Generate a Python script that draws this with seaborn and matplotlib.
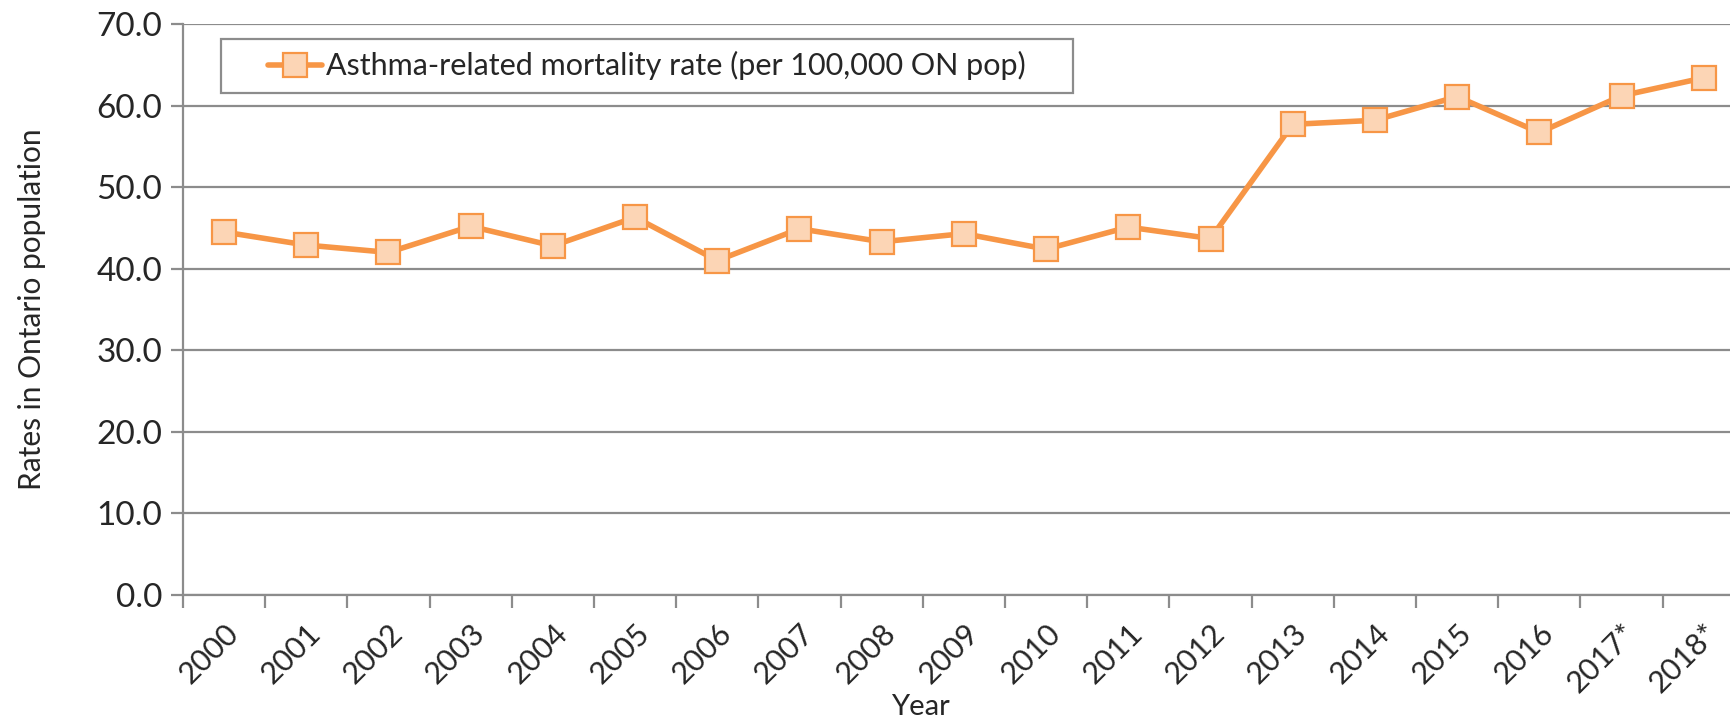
import matplotlib
matplotlib.use("Agg")
import matplotlib.pyplot as plt
import seaborn as sns
import pandas as pd
import numpy as np
from matplotlib.ticker import FixedLocator
from matplotlib.patches import Rectangle

# data
years = ["2000", "2001", "2002", "2003", "2004", "2005", "2006", "2007", "2008", "2009",
         "2010", "2011", "2012", "2013", "2014", "2015", "2016", "2017*", "2018*"]
rates = [44.5, 42.9, 42.0, 45.2, 42.8, 46.3, 41.0, 44.9, 43.3, 44.3,
         42.4, 45.1, 43.7, 57.7, 58.2, 61.1, 56.7, 61.2, 63.4]
series_name = "Asthma-related mortality rate (per 100,000 ON pop)"
y_ticks = [0, 10, 20, 30, 40, 50, 60, 70]

sns.set_theme(style="white")
plt.rcParams['font.family'] = ['Lato', 'DejaVu Sans']

line_color = "#F79646"
face_color = "#FCD5B5"
grid_color = "#8C8C8C"

df = pd.DataFrame({"Year": years, "Rate": rates, "Series": series_name})

fig = plt.figure(figsize=(17.31, 7.21), dpi=100)
ax = fig.add_axes([0.1057, 0.1748, 0.9023, 0.7919])

sns.lineplot(data=df, x="Year", y="Rate", hue="Series", palette=[line_color],
             marker="s", markersize=17, markerfacecolor=face_color,
             markeredgecolor=line_color, markeredgewidth=1.6,
             linewidth=4.0, sort=False, ax=ax)

ax.set_xlim(-0.5, len(years) - 0.5)
ax.set_ylim(0, 70)
ax.set_yticks(y_ticks)
ax.set_yticklabels([f"{v:.1f}" for v in y_ticks])
ax.yaxis.grid(True, color=grid_color, linewidth=1.6)
ax.set_axisbelow(True)

# category labels at centres, tick marks on category boundaries
ax.set_xticks(range(len(years)))
ax.set_xticklabels(years, rotation=45, ha="right", rotation_mode="anchor")
ax.xaxis.set_minor_locator(FixedLocator(np.arange(-0.5, len(years), 1.0)))
ax.tick_params(axis="x", which="major", length=0, pad=17, labelsize=22)
ax.tick_params(axis="x", which="minor", length=9, width=1.6, color=grid_color,
               direction="out", bottom=True)
ax.tick_params(axis="y", length=9, width=1.6, color=grid_color, direction="out",
               left=True, labelsize=24, pad=6)

for side in ["top", "right"]:
    ax.spines[side].set_visible(False)
for side in ["left", "bottom"]:
    ax.spines[side].set_color(grid_color)
    ax.spines[side].set_linewidth(1.6)

ax.set_xlabel("Year", fontsize=21)
ax.xaxis.set_label_coords(0.472, -0.196)
ax.xaxis.label.set_va("center")
ax.set_ylabel("Rates in Ontario population", fontsize=21.5, labelpad=36)

leg = ax.legend(loc="upper left", bbox_to_anchor=(0.0467, 0.9737), borderaxespad=0,
                fontsize=22, frameon=False, handlelength=1.75,
                handletextpad=0.15, borderpad=0.4)
leg.set_title(None)
leg.set_zorder(5)

# Excel-style legend frame with wider side padding, drawn behind the legend
fig.canvas.draw()
bb = leg.get_window_extent().transformed(ax.transAxes.inverted())
padx = 35 / (ax.get_window_extent().width)
frame = Rectangle((bb.x0 - padx, bb.y0), bb.width + 2 * padx, bb.height,
                  transform=ax.transAxes, facecolor="white",
                  edgecolor=grid_color, linewidth=1.6, zorder=4, clip_on=False)
ax.add_patch(frame)

fig.savefig("out.png", dpi=100)
